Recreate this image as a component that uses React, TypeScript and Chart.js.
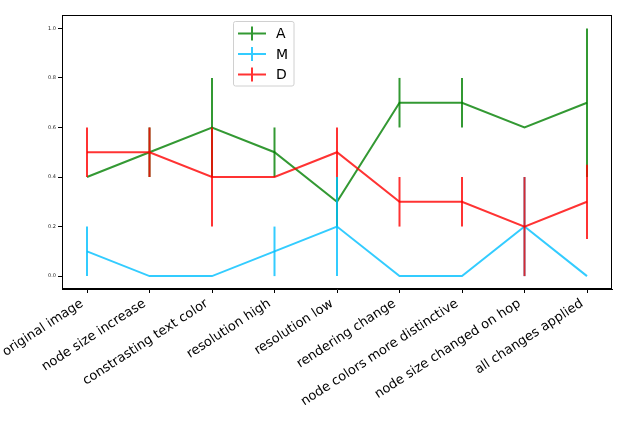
import { useEffect, useRef } from "react"
import { Chart, registerables } from "chart.js"

Chart.register(...registerables)

const categories = [
  "original image",
  "node size increase",
  "constrasting text color",
  "resolution high",
  "resolution low",
  "rendering change",
  "node colors more distinctive",
  "node size changed on hop",
  "all changes applied",
]

const seriesNames = ["A", "M", "D"]
const seriesColors = ["rgba(0, 128, 0, 0.8)", "rgba(0, 191, 255, 0.8)", "rgba(255, 0, 0, 0.8)"]

const valuesA = [0.4, 0.5, 0.6, 0.5, 0.3, 0.7, 0.7, 0.6, 0.7]
const valuesM = [0.1, 0.0, 0.0, 0.1, 0.2, 0.0, 0.0, 0.2, 0.0]
const valuesD = [0.5, 0.5, 0.4, 0.4, 0.5, 0.3, 0.3, 0.2, 0.3]

const errorsA = [0, 0.1, 0.2, 0.1, 0.1, 0.1, 0.1, 0, 0.3]
const errorsM = [0.1, 0, 0, 0.1, 0.2, 0, 0, 0.2, 0]
const errorsD = [0.1, 0.1, 0.2, 0, 0.1, 0.1, 0.1, 0.2, 0.15]

const yTicks = [0.0, 0.2, 0.4, 0.6, 0.8, 1.0]

const allValues = [valuesA, valuesM, valuesD]
const allErrors = [errorsA, errorsM, errorsD]

const FONT = "'DejaVu Sans', sans-serif"
const LINE_W = 2

// vertical error bars, drawn right after each dataset like matplotlib does
const errorBarPlugin = {
  id: "errorBars",
  afterDatasetDraw(chart: any, args: any) {
    const i = args.index
    const errs = allErrors[i]
    const vals = allValues[i]
    const { ctx, scales } = chart
    ctx.save()
    ctx.strokeStyle = seriesColors[i]
    ctx.lineWidth = LINE_W
    vals.forEach((v, j) => {
      if (!errs[j]) return
      const px = scales.x.getPixelForValue(j)
      ctx.beginPath()
      ctx.moveTo(px, scales.y.getPixelForValue(v - errs[j]))
      ctx.lineTo(px, scales.y.getPixelForValue(v + errs[j]))
      ctx.stroke()
    })
    ctx.restore()
  },
}

const framePlugin = {
  id: "frame",
  afterDraw(chart: any) {
    const { ctx, chartArea } = chart
    ctx.save()
    ctx.strokeStyle = "#000"
    ctx.lineWidth = 1
    ctx.strokeRect(chartArea.left + 0.5, chartArea.top + 0.5, chartArea.width - 1, chartArea.height - 1)
    ctx.restore()
  },
}

const legendPlugin = {
  id: "boxLegend",
  afterDraw(chart: any) {
    const { ctx } = chart
    const x0 = 233.5
    const y0 = 21.5
    const w = 60.5
    const h = 64.5
    ctx.save()
    ctx.fillStyle = "rgba(255,255,255,0.8)"
    ctx.strokeStyle = "#d0d0d0"
    ctx.lineWidth = 1
    ctx.beginPath()
    ctx.roundRect(x0, y0, w, h, 2)
    ctx.fill()
    ctx.stroke()
    ctx.font = `14px ${FONT}`
    ctx.textBaseline = "middle"
    seriesNames.forEach((name, i) => {
      const cy = 33.5 + i * 20.5
      ctx.strokeStyle = seriesColors[i]
      ctx.lineWidth = LINE_W
      ctx.beginPath()
      ctx.moveTo(238, cy)
      ctx.lineTo(266, cy)
      ctx.moveTo(252, cy - 7)
      ctx.lineTo(252, cy + 7)
      ctx.stroke()
      ctx.fillStyle = "#000"
      ctx.fillText(name, 276, cy + 1)
    })
    ctx.restore()
  },
}

export default function App() {
  const chartRef = useRef<HTMLCanvasElement>(null)
  const chartInstance = useRef<Chart | null>(null)

  useEffect(() => {
    if (!chartRef.current) return
    if (chartInstance.current) {
      chartInstance.current.destroy()
    }
    const ctx = chartRef.current.getContext("2d")
    if (!ctx) return

    chartInstance.current = new Chart(ctx, {
      type: "line",
      data: {
        datasets: allValues.map((vals, i) => ({
          label: seriesNames[i],
          data: vals.map((v, j) => ({ x: j, y: v })),
          borderColor: seriesColors[i],
          backgroundColor: seriesColors[i],
          borderWidth: LINE_W,
          pointRadius: 0,
          tension: 0,
          fill: false,
          order: allValues.length - 1 - i, // later series on top
        })),
      },
      options: {
        animation: false,
        responsive: true,
        maintainAspectRatio: false,
        layout: { padding: { top: 15, right: 20, left: 0, bottom: 0 } },
        plugins: {
          legend: { display: false },
          tooltip: { enabled: false },
        },
        scales: {
          x: {
            type: "linear",
            min: -0.4,
            max: 8.4,
            afterBuildTicks: (scale: any) => {
              scale.ticks = categories.map((_, j) => ({ value: j }))
            },
            afterFit: (scale: any) => {
              scale.height = 135
            },
            grid: {
              drawOnChartArea: false,
              drawTicks: true,
              tickLength: 4,
              tickColor: "#000",
            },
            border: { display: true, color: "#000" },
            ticks: {
              autoSkip: false,
              minRotation: 33,
              maxRotation: 33,
              padding: 3,
              labelOffset: -5,
              color: "#000",
              font: { family: FONT, size: 13 },
              callback: (v: any) => categories[v] ?? "",
            },
          },
          y: {
            min: -0.052,
            max: 1.054,
            afterBuildTicks: (scale: any) => {
              scale.ticks = yTicks.map((v) => ({ value: v }))
            },
            afterFit: (scale: any) => {
              scale.width = 62
            },
            grid: {
              drawOnChartArea: false,
              drawTicks: true,
              tickLength: 4,
              tickColor: "#000",
            },
            border: { display: true, color: "#000" },
            ticks: {
              padding: 2,
              color: "#222",
              font: { family: FONT, size: 5 },
              callback: (v: any) => Number(v).toFixed(1),
            },
          },
        },
      },
      plugins: [errorBarPlugin, framePlugin, legendPlugin],
    })

    return () => {
      if (chartInstance.current) {
        chartInstance.current.destroy()
      }
    }
  }, [])

  return (
    <div style={{ position: "fixed", left: 0, top: 0, width: 632, height: 424, background: "#fff" }}>
      <canvas ref={chartRef} />
    </div>
  )
}
